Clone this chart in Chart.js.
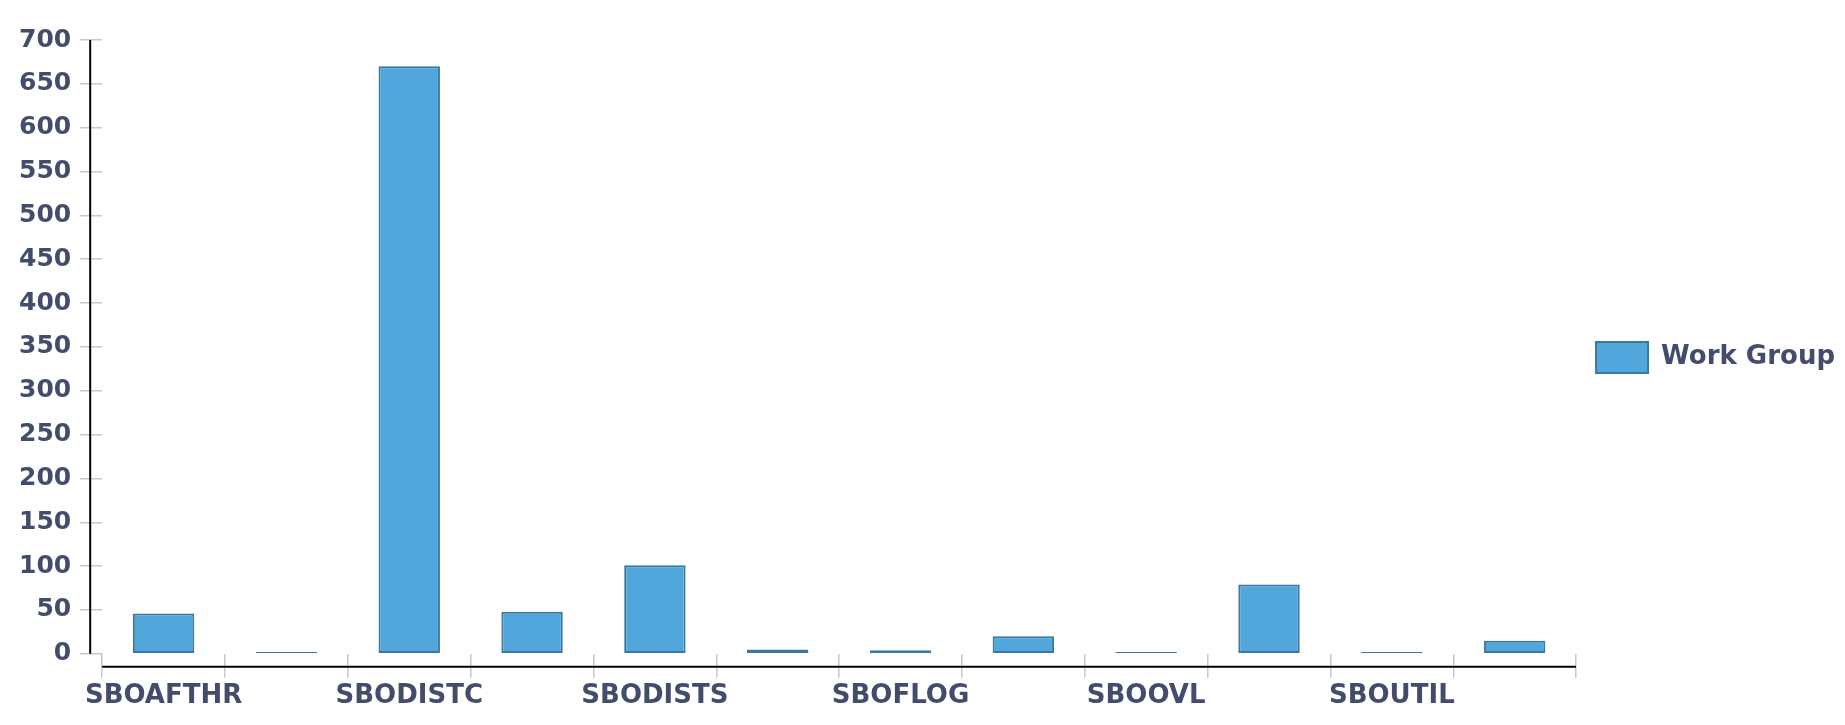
<!DOCTYPE html>
<html>
<head>
<meta charset="utf-8">
<script src="https://cdn.jsdelivr.net/npm/chart.js@4/dist/chart.umd.min.js"></script>
<style>
  html, body { margin: 0; padding: 0; background: #fff; }
  #wrap { width: 1845px; height: 725px; }
</style>
</head>
<body>
<div id="wrap"><canvas id="wgChart"></canvas></div>
<script>
// work group names (only every other one gets a label on the axis)
const groups = ['SBOAFTHR', 'SBOBATCH', 'SBODISTC', 'SBODISTR', 'SBODISTS', 'SBOEXTR',
                'SBOFLOG', 'SBOMISC', 'SBOOVL', 'SBOSTAT', 'SBOUTIL', 'SBOWORK'];
const counts = [46, 2, 670, 48, 101, 5, 4, 20, 2, 79, 2, 15];
const seriesName = 'Work Group';

const textColor = '#434d6b';
const tickFont = { family: 'DejaVu Sans', size: 26, weight: 'bold' };
const yFont = { family: 'DejaVu Sans', size: 25, weight: 'bold' };

// axis lines sit a bit away from the plot area, like the original
const offsetAxes = {
    id: 'offsetAxes',
    afterDraw(chart) {
        const ctx = chart.ctx;
        const x = chart.scales.x, y = chart.scales.y;
        ctx.save();
        ctx.strokeStyle = '#000';
        ctx.lineWidth = 2;
        ctx.beginPath();
        ctx.moveTo(y.right - 12, y.top);
        ctx.lineTo(y.right - 12, y.bottom);
        ctx.moveTo(x.left, x.top + 13);
        ctx.lineTo(x.right, x.top + 13);
        ctx.stroke();
        ctx.restore();
    }
};

new Chart(document.getElementById('wgChart'), {
    type: 'bar',
    data: {
        labels: groups,
        datasets: [{
            label: seriesName,
            data: counts,
            backgroundColor: '#51a6db',
            borderColor: '#3b78a0',
            borderWidth: 2,
            borderSkipped: false,
            barPercentage: 0.5,
            categoryPercentage: 1
        }]
    },
    options: {
        responsive: true,
        maintainAspectRatio: false,
        animation: false,
        layout: { padding: { top: 0, left: 10, bottom: 10, right: 0 } },
        plugins: {
            // empty title only used as top spacing, so the legend stays centred on the canvas
            title: { display: true, text: '', font: { size: 10 }, padding: { top: 28, bottom: 0 } },
            legend: {
                position: 'right',
                labels: {
                    boxWidth: 52,
                    boxHeight: 31,
                    color: textColor,
                    font: tickFont,
                    padding: 20
                }
            },
            tooltip: { enabled: false }
        },
        scales: {
            x: {
                border: { display: false },
                grid: { drawOnChartArea: false, tickLength: 24, color: '#c8c8c8', lineWidth: 1.5 },
                ticks: {
                    color: textColor, font: tickFont, maxRotation: 0, minRotation: 0,
                    autoSkip: false, padding: 3,
                    callback: function (val, i) { return i % 2 === 0 ? this.getLabelForValue(val) : ''; }
                }
            },
            y: {
                min: 0,
                max: 700,
                border: { display: false },
                grid: { drawOnChartArea: false, tickLength: 22, color: '#c8c8c8', lineWidth: 1.5 },
                ticks: { stepSize: 50, color: textColor, font: yFont, padding: 9 }
            }
        }
    },
    plugins: [offsetAxes]
});
</script>
</body>
</html>
